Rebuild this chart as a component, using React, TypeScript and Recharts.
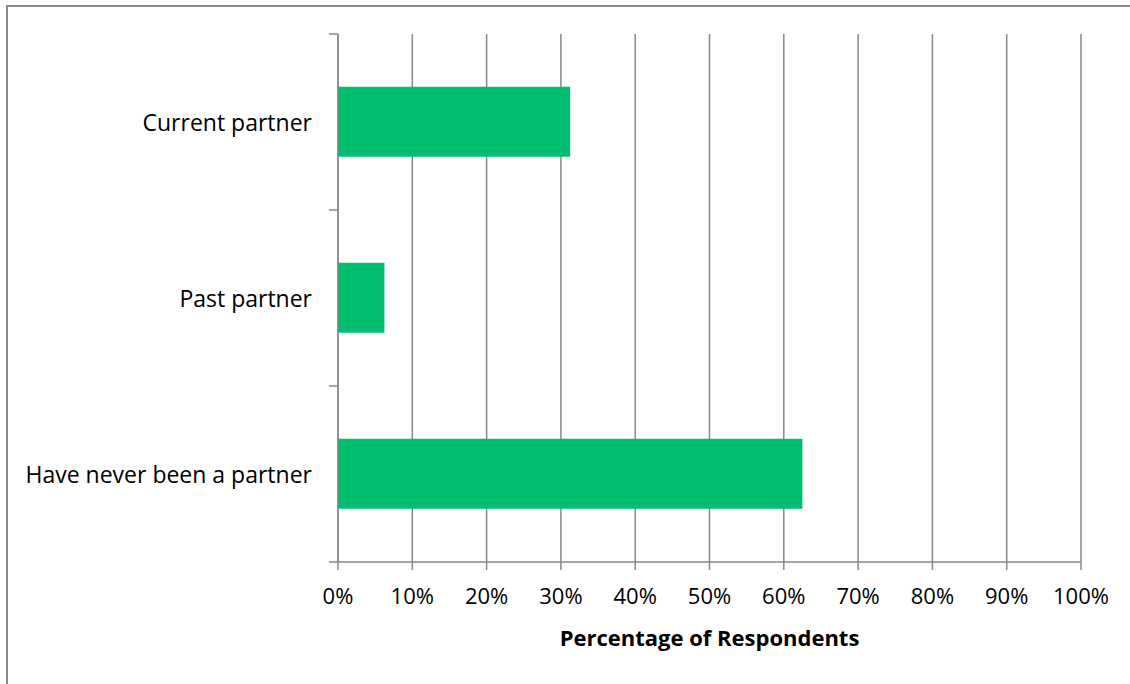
import { BarChart, Bar, XAxis, YAxis, CartesianGrid } from 'recharts'

const categories = ['Current partner', 'Past partner', 'Have never been a partner']
const shares = [31.25, 6.25, 62.5]
const xTicks = [0, 10, 20, 30, 40, 50, 60, 70, 80, 90, 100]

const chartData = categories.map((name, i) => ({ name, share: shares[i] }))

const W = 1122
const H = 677
const MARGIN = { top: 27, right: 49, left: 0, bottom: 32 }
const XAXIS_H = 90
const YAXIS_W = 330
const GRAY = '#898989'
const FONT = '"Open Sans", "Noto Sans", sans-serif'

const bandHalf = (H - MARGIN.top - MARGIN.bottom - XAXIS_H) / categories.length / 2

function CategoryTick(props: any) {
  const { x, y, payload, index } = props
  const last = index === categories.length - 1
  return (
    <g>
      <line x1={x - 9} x2={x} y1={y - bandHalf} y2={y - bandHalf} stroke={GRAY} strokeWidth={1.5} />
      {last && (
        <line x1={x - 9} x2={x} y1={y + bandHalf} y2={y + bandHalf} stroke={GRAY} strokeWidth={1.5} />
      )}
      <text
        x={x - 26}
        y={y}
        textAnchor="end"
        dominantBaseline="central"
        fontFamily={FONT}
        fontSize={23}
        fill="#000"
      >
        {payload.value}
      </text>
    </g>
  )
}

export default function App() {
  return (
    <div
      style={{
        position: 'absolute',
        left: 6,
        top: 5,
        width: 1124,
        height: 679,
        boxSizing: 'border-box',
        borderLeft: `2px solid ${GRAY}`,
        borderTop: `2px solid ${GRAY}`,
        background: '#fff',
        overflow: 'hidden',
      }}
    >
      <BarChart
        width={W}
        height={H}
        data={chartData}
        layout="vertical"
        margin={MARGIN}
        barCategoryGap="30%"
      >
        <CartesianGrid horizontal={false} stroke={GRAY} strokeWidth={1.5} />
        <XAxis
          type="number"
          dataKey="share"
          domain={[0, 100]}
          ticks={xTicks}
          tickFormatter={(v) => `${v}%`}
          height={XAXIS_H}
          stroke={GRAY}
          tickSize={8}
          tickMargin={18}
          tick={{ fill: '#000', fontSize: 22, fontFamily: FONT }}
          axisLine={{ stroke: GRAY, strokeWidth: 1.5 }}
          tickLine={{ stroke: GRAY, strokeWidth: 1.5 }}
          label={{
            value: 'Percentage of Respondents',
            position: 'insideBottom',
            offset: 6,
            fill: '#000',
            fontSize: 22,
            fontWeight: 'bold',
            fontFamily: FONT,
          }}
        />
        <YAxis
          type="category"
          dataKey="name"
          width={YAXIS_W}
          tickSize={0}
          tickMargin={0}
          tickLine={false}
          axisLine={{ stroke: GRAY, strokeWidth: 1.5 }}
          tick={<CategoryTick />}
          interval={0}
        />
        <Bar dataKey="share" fill="#00bf6f" isAnimationActive={false} />
      </BarChart>
    </div>
  )
}
